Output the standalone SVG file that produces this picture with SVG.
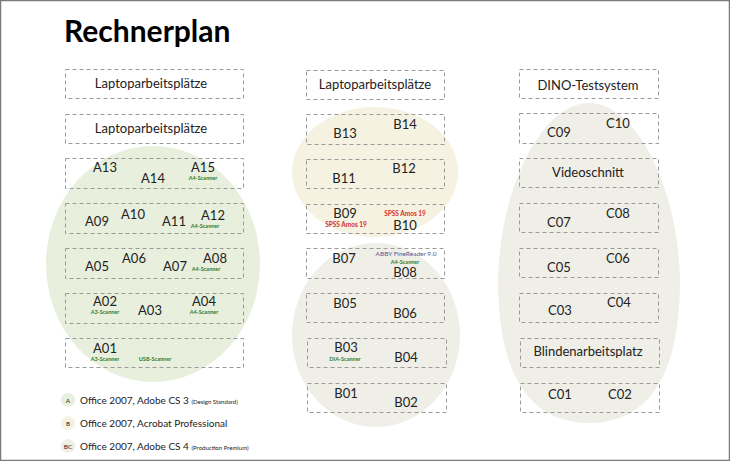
<svg xmlns="http://www.w3.org/2000/svg" width="730" height="461" viewBox="0 0 730 461">
<style>
text{font-family:Lato,"Open Sans","DejaVu Sans",sans-serif;fill:#222}
.box{fill:none;stroke:#9a9a9a;stroke-width:1;stroke-dasharray:4 3}
.t{font-size:13px;text-anchor:middle}
.id{font-size:13px;text-anchor:middle}
.g{font-size:5.5px;font-weight:bold;fill:#2e7d32;text-anchor:middle}
.r{font-size:6.5px;font-weight:bold;fill:#d32f2f;text-anchor:middle}
.p{font-size:6.5px;fill:#5c5890;text-anchor:middle}
.lg{font-size:10px}
.sm{font-size:6px}
.ll{font-size:6.5px;text-anchor:middle}
</style>
<rect x="0.5" y="0.5" width="729" height="460" fill="#fff" stroke="#7a7a7a" stroke-width="1.5"/>
<g id="areas">
<ellipse cx="153" cy="264" rx="107" ry="118" fill="#e8f0dd"/>
<ellipse cx="375" cy="172" rx="83" ry="65" fill="#f6f2e1"/>
<ellipse cx="376" cy="335" rx="84" ry="92" fill="#efefe8"/>
<path d="M589,103 C635,103 678,185 680,280 C680,380 645,423 589,423 C533,423 498,380 498,280 C500,185 543,103 589,103 Z" fill="#efefe8"/>
</g>
<text x="64" y="42" style="font-size:30px;font-weight:bold;fill:#000">Rechnerplan</text>
<g id="connectors"></g>
<!-- left column -->
<g id="L1"><rect class="box" x="65.5" y="69.5" width="178" height="29"/><text class="t" x="151" y="88">Laptoparbeitsplätze</text></g>
<g id="L2"><rect class="box" x="65.5" y="114.5" width="178" height="29"/><text class="t" x="151" y="133">Laptoparbeitsplätze</text></g>
<g id="A13-15"><rect class="box" x="65.5" y="158.5" width="178" height="30"/>
<text class="id" x="105" y="172">A13</text><text class="id" x="153" y="183">A14</text><text class="id" x="203" y="172">A15</text><text class="g" x="203" y="179.5">A4-Scanner</text></g>
<g id="A09-12"><rect class="box" x="65.5" y="203.5" width="178" height="30"/>
<text class="id" x="97" y="226">A09</text><text class="id" x="133" y="219">A10</text><text class="id" x="174" y="226">A11</text><text class="id" x="213" y="220">A12</text><text class="g" x="205" y="227.5">A4-Scanner</text></g>
<g id="A05-08"><rect class="box" x="65.5" y="248.5" width="178" height="30"/>
<text class="id" x="97" y="271">A05</text><text class="id" x="134" y="263">A06</text><text class="id" x="175" y="271">A07</text><text class="id" x="215" y="263">A08</text><text class="g" x="206" y="270.5">A4-Scanner</text></g>
<g id="A02-04"><rect class="box" x="65.5" y="293.5" width="178" height="30"/>
<text class="id" x="105" y="306">A02</text><text class="g" x="105" y="313.5">A3-Scanner</text><text class="id" x="150" y="315">A03</text><text class="id" x="204" y="306">A04</text><text class="g" x="204" y="313.5">A4-Scanner</text></g>
<g id="A01"><rect class="box" x="65.5" y="338.5" width="178" height="29"/>
<text class="id" x="105" y="353">A01</text><text class="g" x="105" y="361">A3-Scanner</text><text class="g" x="155" y="361">USB-Scanner</text></g>
<!-- middle column -->
<g id="M1"><rect class="box" x="306.5" y="70.5" width="138" height="29"/><text class="t" x="375" y="89">Laptoparbeitsplätze</text></g>
<g id="B13-14"><rect class="box" x="306.5" y="114.5" width="138" height="30"/>
<text class="id" x="345" y="138">B13</text><text class="id" x="405" y="129">B14</text></g>
<g id="B11-12"><rect class="box" x="306.5" y="159.5" width="138" height="29"/>
<text class="id" x="344" y="183">B11</text><text class="id" x="404" y="173">B12</text></g>
<g id="B09-10"><rect class="box" x="306.5" y="204.5" width="138" height="29"/>
<text class="id" x="345" y="218">B09</text><text class="r" x="346" y="227">SPSS Amos 19</text><text class="r" x="405" y="216">SPSS Amos 19</text><text class="id" x="405" y="229.5">B10</text></g>
<g id="B07-08"><rect class="box" x="306.5" y="248.5" width="138" height="30"/>
<text class="id" x="344" y="263">B07</text><text class="p" x="406" y="256">ABBY FineReader 9.0</text><text class="g" x="405" y="263.5">A4-Scanner</text><text class="id" x="405" y="277">B08</text></g>
<g id="B05-06"><rect class="box" x="306.5" y="293.5" width="138" height="29"/>
<text class="id" x="345" y="308">B05</text><text class="id" x="405" y="318">B06</text></g>
<g id="B03-04"><rect class="box" x="307.5" y="338.5" width="139" height="29"/>
<text class="id" x="346" y="352">B03</text><text class="g" x="345" y="361">DIA-Scanner</text><text class="id" x="406" y="362">B04</text></g>
<g id="B01-02"><rect class="box" x="307.5" y="383.5" width="139" height="29"/>
<text class="id" x="346" y="398">B01</text><text class="id" x="406" y="407">B02</text></g>
<!-- right column -->
<g id="R1"><rect class="box" x="519.5" y="69.5" width="139" height="29"/><text class="t" x="588" y="90">DINO-Testsystem</text></g>
<g id="C09-10"><rect class="box" x="519.5" y="113.5" width="139" height="30"/>
<text class="id" x="559" y="137">C09</text><text class="id" x="618" y="128">C10</text></g>
<g id="Video"><rect class="box" x="519.5" y="158.5" width="139" height="29"/><text class="t" x="588" y="177">Videoschnitt</text></g>
<g id="C07-08"><rect class="box" x="519.5" y="203.5" width="139" height="29"/>
<text class="id" x="559" y="227">C07</text><text class="id" x="618" y="218">C08</text></g>
<g id="C05-06"><rect class="box" x="519.5" y="248.5" width="139" height="29"/>
<text class="id" x="559" y="272">C05</text><text class="id" x="618" y="263">C06</text></g>
<g id="C03-04"><rect class="box" x="519.5" y="293.5" width="139" height="29"/>
<text class="id" x="560" y="315">C03</text><text class="id" x="619" y="307">C04</text></g>
<g id="Blind"><rect class="box" x="520.5" y="338.5" width="139" height="29"/><text class="t" x="588" y="356">Blindenarbeitsplatz</text></g>
<g id="C01-02"><rect class="box" x="520.5" y="383.5" width="139" height="29"/>
<text class="id" x="560" y="399">C01</text><text class="id" x="620" y="399">C02</text></g>
<!-- legend -->
<g id="legend">
<circle cx="68" cy="400" r="7" fill="#e8f0dd"/><text class="ll" x="68" y="402.5">A</text>
<text class="lg" x="80" y="404">Office 2007, Adobe CS 3 <tspan class="sm">(Design Standard)</tspan></text>
<circle cx="68" cy="423" r="7" fill="#f6f2e1"/><text class="ll" x="68" y="425.5">B</text>
<text class="lg" x="80" y="427">Office 2007, Acrobat Professional</text>
<circle cx="68" cy="446" r="7" fill="#efefe8"/><text class="ll" x="68" y="448.5">BC</text>
<text class="lg" x="80" y="450">Office 2007, Adobe CS 4 <tspan class="sm">(Production Premium)</tspan></text>
</g>
</svg>
